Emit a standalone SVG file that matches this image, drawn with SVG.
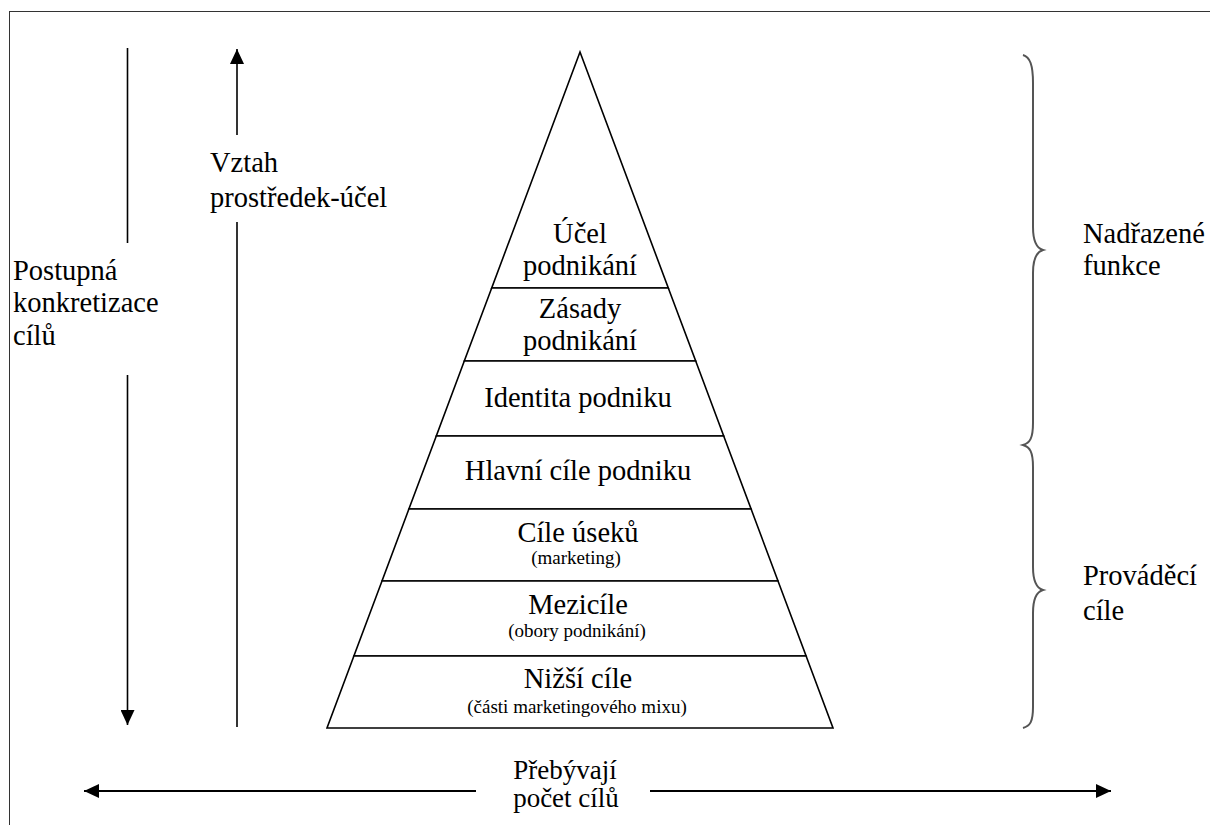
<svg xmlns="http://www.w3.org/2000/svg" width="1210" height="825" viewBox="0 0 1210 825" font-family="'Liberation Serif', 'Times New Roman', 'DejaVu Serif', serif">
<style>
text{font-family:'Liberation Serif','Times New Roman','DejaVu Serif',serif;fill:#000;font-size:28.5px}
.c{text-anchor:middle}
.s{font-size:19px}
.b{font-size:27px}
.layer{fill:#fff;stroke:#000;stroke-width:1.6;stroke-linejoin:miter}
.ln{stroke:#000;stroke-width:1.6;fill:none}
.ln2{stroke:#000;stroke-width:2.2;fill:none}
.brace{stroke:#555;stroke-width:2;fill:none}
</style>
<defs>
<marker id="ah" markerUnits="userSpaceOnUse" markerWidth="16" markerHeight="14" refX="15" refY="7" orient="auto">
<path d="M0,0 L15,7 L0,14 z" fill="#000"/>
</marker>
</defs>
<rect x="9.5" y="11.5" width="1215" height="830" fill="#fff" stroke="#333" stroke-width="1"/>

<g id="pyramid">
<g id="n1"><polygon class="layer" points="580,52 491.7,288 668.3,288"/><text class="c" x="580" y="243">Účel</text><text class="c" x="580" y="275">podnikání</text></g>
<g id="n2"><polygon class="layer" points="491.7,288 668.3,288 695.7,361 464.3,361"/><text class="c" x="580" y="318">Zásady</text><text class="c" x="580" y="350">podnikání</text></g>
<g id="n3"><polygon class="layer" points="464.3,361 695.7,361 723.7,436 436.3,436"/><text class="c" x="578" y="407">Identita podniku</text></g>
<g id="n4"><polygon class="layer" points="436.3,436 723.7,436 751.1,509 408.9,509"/><text class="c" x="578" y="480">Hlavní cíle podniku</text></g>
<g id="n5"><polygon class="layer" points="408.9,509 751.1,509 778,581 382,581"/><text class="c" x="578" y="542">Cíle úseků</text><text class="c s" x="576" y="564">(marketing)</text></g>
<g id="n6"><polygon class="layer" points="382,581 778,581 806.1,656 353.9,656"/><text class="c" x="578" y="614">Mezicíle</text><text class="c s" x="577" y="637">(obory podnikání)</text></g>
<g id="n7"><polygon class="layer" points="353.9,656 806.1,656 833,728 327,728"/><text class="c" x="578" y="688">Nižší cíle</text><text class="c s" x="577" y="713">(části marketingového mixu)</text></g>
</g>

<g id="label-left">
<text x="13" y="280">Postupná</text>
<text x="13" y="312">konkretizace</text>
<text x="13" y="345">cílů</text>
</g>
<g id="label-vztah">
<text x="210" y="172">Vztah</text>
<text x="210" y="207">prostředek-účel</text>
</g>
<g id="label-nadrazene">
<text x="1083" y="243">Nadřazené</text>
<text x="1083" y="275">funkce</text>
</g>
<g id="label-provadeci">
<text x="1083" y="585">Prováděcí</text>
<text x="1083" y="620">cíle</text>
</g>
<g id="label-bottom">
<text class="c b" x="565" y="779">Přebývají</text>
<text class="c b" x="566" y="807">počet cílů</text>
</g>

<g id="connectors">
<line class="ln" x1="127.5" y1="48" x2="127.5" y2="243"/>
<line class="ln" x1="127.5" y1="375" x2="127.5" y2="725" marker-end="url(#ah)"/>
<line class="ln" x1="237" y1="135" x2="237" y2="49" marker-end="url(#ah)" stroke="#333"/>
<line class="ln" x1="237" y1="222" x2="237" y2="727" stroke="#444"/>
<line class="ln2" x1="476" y1="791" x2="84" y2="791" marker-end="url(#ah)"/>
<line class="ln2" x1="650" y1="791" x2="1111" y2="791" marker-end="url(#ah)"/>
<path class="brace" d="M1023,55 C1030,57 1033,65 1033,83 L1033,227 C1033,240 1036,248 1043,250 C1036,252 1033,260 1033,273 L1033,423 C1033,438 1030,443 1023,445 C1030,447 1033,452 1033,467 L1033,567 C1033,580 1036,588 1043,590 C1036,592 1033,600 1033,613 L1033,707 C1033,722 1030,726 1023,728"/>
</g>
</svg>
